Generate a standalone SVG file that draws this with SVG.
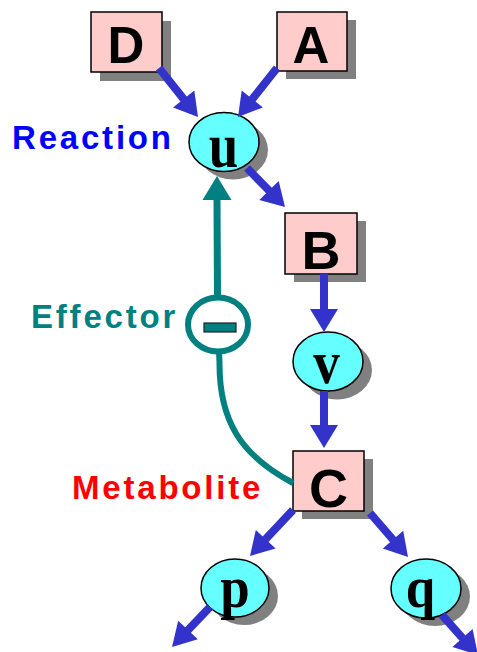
<svg xmlns="http://www.w3.org/2000/svg" width="477" height="652" viewBox="0 0 477 652">
<style>
.box{fill:#FFCCCC;stroke:#000;stroke-width:1.5}
.ell{fill:#66FFFF;stroke:#000;stroke-width:1.5}
.sh{fill:#808080}
.bl{font-family:"Liberation Sans",Arial,sans-serif;font-weight:bold;fill:#000;text-anchor:middle}
.sl{font-family:"Liberation Serif","Times New Roman",serif;font-weight:bold;fill:#000;text-anchor:middle;font-size:53px}
.lab{font-family:"Liberation Sans",Arial,sans-serif;font-weight:bold;font-size:33px;letter-spacing:2.8px}
.ar{stroke:#3333CC;stroke-width:8;fill:none}
.ah{fill:#3333CC}
.tl{stroke:#008080;stroke-width:6;fill:none}
</style>
<rect width="477" height="652" fill="#fff"/>
<g id="labels">
<text class="lab" x="12" y="149" fill="#0000FF">Reaction</text>
<text class="lab" x="31" y="328" fill="#008080">Effector</text>
<text class="lab" x="72" y="499" fill="#FF0000">Metabolite</text>
</g>
<g id="node-D">
<rect class="sh" x="100" y="21" width="71" height="60"/>
<rect class="box" x="91" y="12" width="71" height="60"/>
<text class="bl" x="126" y="63" font-size="51">D</text>
</g>
<g id="node-A">
<rect class="sh" x="286" y="20" width="70" height="59"/>
<rect class="box" x="277" y="12" width="70" height="59"/>
<text class="bl" x="311" y="63" font-size="51">A</text>
</g>
<g id="node-B">
<rect class="sh" x="294" y="221" width="72" height="61"/>
<rect class="box" x="285" y="213" width="72" height="61"/>
<text class="bl" x="321" y="269" font-size="54">B</text>
</g>
<g id="node-C">
<rect class="sh" x="302" y="459" width="71" height="60"/>
<rect class="box" x="293" y="451" width="71" height="60"/>
<text class="bl" x="328.5" y="507" font-size="54">C</text>
</g>
<g id="node-u">
<ellipse class="sh" cx="233" cy="150" rx="35" ry="29.5"/>
<ellipse class="ell" cx="224" cy="142" rx="35" ry="29.5"/>
<text class="sl" transform="translate(223.5,167) scale(1,1.2)">u</text>
</g>
<g id="node-v">
<ellipse class="sh" cx="337" cy="370" rx="35" ry="29.5"/>
<ellipse class="ell" cx="328" cy="361.5" rx="35" ry="29.5"/>
<text class="sl" transform="translate(326.5,383) scale(1,1.15)">v</text>
</g>
<g id="node-p">
<ellipse class="sh" cx="244" cy="596" rx="34" ry="29"/>
<ellipse class="ell" cx="235" cy="588" rx="34" ry="29"/>
<text class="sl" transform="translate(235,607) scale(1,1.12)">p</text>
</g>
<g id="node-q">
<ellipse class="sh" cx="435" cy="596.5" rx="35" ry="29.5"/>
<ellipse class="ell" cx="426" cy="588.5" rx="35" ry="29.5"/>
<text class="sl" transform="translate(420.5,607) scale(1,1.12)">q</text>
</g>
<g id="node-effector">
<ellipse cx="218" cy="324.5" rx="30" ry="27" fill="#fff" stroke="#008080" stroke-width="6"/>
<rect x="204" y="323" width="32" height="9" fill="#008080" stroke="#222" stroke-width="1.2"/>
</g>
<g id="connectors">
<line class="ar" x1="159" y1="68" x2="184" y2="99.5"/>
<polygon class="ah" points="198,117 173.1,107.4 194.3,90.6"/>
<line class="ar" x1="277" y1="68" x2="252" y2="99.5"/>
<polygon class="ah" points="238,117 262.9,107.4 241.7,90.6"/>
<line class="ar" x1="247" y1="168" x2="269.5" y2="191"/>
<polygon class="ah" points="285,207 259.3,199.9 278.7,181.1"/>
<line class="ar" x1="324" y1="274" x2="324" y2="310"/>
<polygon class="ah" points="324,332 310,309 338,309"/>
<line class="ar" x1="324" y1="391" x2="324" y2="426"/>
<polygon class="ah" points="324,448 310,425 338,425"/>
<line class="ar" x1="293" y1="510" x2="265.3" y2="539.6"/>
<polygon class="ah" points="250,556 275.6,548.4 255.8,530"/>
<line class="ar" x1="370" y1="513" x2="393.3" y2="540"/>
<polygon class="ah" points="408,557 382.8,548.4 403.2,530.8"/>
<line class="ar" x1="210" y1="607" x2="187.6" y2="630.5"/>
<polygon class="ah" points="172,647 197.8,639.3 178.2,620.7"/>
<line class="ar" x1="442" y1="615" x2="462.8" y2="638.4"/>
<polygon class="ah" points="478,655 452.4,647 472.6,629"/>
<line x1="217.5" y1="297" x2="217" y2="199" stroke="#008080" stroke-width="7"/>
<polygon points="217,176 202.5,200 231.5,200" fill="#008080"/>
<path class="tl" d="M219,351 L219.5,362 C219,420 240,455 293,483"/>
</g>
</svg>
